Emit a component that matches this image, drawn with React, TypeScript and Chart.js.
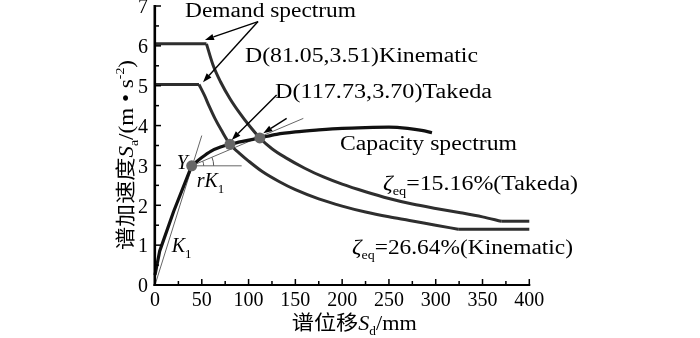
import React, { useEffect, useRef } from "react";
import { Chart, registerables } from "chart.js";
Chart.register(...registerables);

// ---------- data ----------
const xTickValues = [0, 50, 100, 150, 200, 250, 300, 350, 400];
const yTickValues = [0, 1, 2, 3, 4, 5, 6, 7];

// Demand spectrum, zeta_eq = 15.16% (Takeda)  [Sd mm, Sa m/s2]
const demandTakeda: number[][] = [
  [0, 6.05], [55, 6.05], [62, 5.52], [70, 5.1], [80, 4.68], [90, 4.33], [100, 4.02],
  [112, 3.69], [125, 3.42], [140, 3.19], [160, 2.93], [180, 2.71], [200, 2.53],
  [225, 2.34], [250, 2.17], [275, 2.03], [300, 1.92], [325, 1.82], [350, 1.71],
  [370, 1.6], [400, 1.6],
];
// Demand spectrum, zeta_eq = 26.64% (Kinematic)
const demandKinematic: number[][] = [
  [0, 5.03], [47, 5.03], [53, 4.75], [58, 4.48], [64, 4.18], [71, 3.88], [80.1, 3.53],
  [90, 3.31], [100, 3.11], [115, 2.84], [133, 2.59], [150, 2.39], [175, 2.16],
  [200, 1.98], [225, 1.83], [250, 1.71], [272, 1.62], [300, 1.5], [324, 1.4], [400, 1.4],
];
// Capacity spectrum
const capacityBeforeYield: number[][] = [[0, 0.25], [5, 0.85], [20, 1.85], [39.2, 2.99]];
const capacityAfterYield: number[][] = [
  [39.2, 2.99], [50, 3.2], [60, 3.36], [70, 3.46], [80.1, 3.53], [95, 3.61], [112, 3.69],
  [130, 3.78], [150, 3.84], [175, 3.89], [200, 3.93], [225, 3.95], [250, 3.96],
  [270, 3.93], [285, 3.88], [296, 3.82],
];
const keyPoints: number[][] = [[39.2, 2.99], [80.1, 3.53], [112, 3.69]];
const k1Line: number[][] = [[0, 0], [50, 3.75]];
const rk1Line: number[][] = [[39.2, 2.99], [158.5, 4.18]];
const yieldHorizontal: number[][] = [[39.2, 2.99], [92.6, 2.99]];

const arrows: number[][][] = [
  [[110.1, 6.61], [53.4, 6.15]],
  [[110.1, 6.61], [51.3, 5.09]],
  [[130, 4.77], [82, 3.64]],
  [[140.7, 4.18], [115.7, 3.81]],
];

// ---------- styles ----------
const SERIF = '"Liberation Serif", "Times New Roman", serif';
const CJK = '"Noto Sans CJK SC", "Noto Sans CJK JP", sans-serif';
const F = (size: number, italic = false) => `${italic ? "italic " : ""}${size}px ${SERIF}`;

type Seg = { t: string; font: string; dy?: number };
type Ann = { segs: Seg[]; x: number; y: number; w?: number };

const annotations: Ann[] = [
  { segs: [{ t: "Demand spectrum", font: F(20) }], x: 32.1, y: 6.73, w: 171 },
  { segs: [{ t: "D(81.05,3.51)Kinematic", font: F(20) }], x: 96.2, y: 5.6, w: 233 },
  { segs: [{ t: "D(117.73,3.70)Takeda", font: F(20) }], x: 128.2, y: 4.68, w: 217 },
  { segs: [{ t: "Capacity spectrum", font: F(20) }], x: 197.7, y: 3.39, w: 177 },
  {
    segs: [
      { t: "ζ", font: F(20, true) },
      { t: "eq", font: F(12), dy: 5 },
      { t: "=15.16%(Takeda)", font: F(20) },
    ],
    x: 243.6, y: 2.38, w: 195,
  },
  {
    segs: [
      { t: "ζ", font: F(20, true) },
      { t: "eq", font: F(12), dy: 5 },
      { t: "=26.64%(Kinematic)", font: F(20) },
    ],
    x: 210.5, y: 0.78, w: 221,
  },
  { segs: [{ t: "Y", font: F(20, true) }], x: 23.2, y: 2.9 },
  { segs: [{ t: "rK", font: F(20, true) }, { t: "1", font: F(13), dy: 6 }], x: 44.6, y: 2.47 },
  { segs: [{ t: "K", font: F(20, true) }, { t: "1", font: F(13), dy: 6 }], x: 17.8, y: 0.84 },
];

const yTitle: Seg[] = [
  { t: "谱加速度", font: `20px ${CJK}` },
  { t: "S", font: F(20, true) },
  { t: "a", font: F(12), dy: 5 },
  { t: "/(m • s", font: F(20) },
  { t: "-2", font: F(12), dy: -9 },
  { t: ")", font: F(20) },
];
const xTitle: Seg[] = [
  { t: "谱位移", font: `20px ${CJK}` },
  { t: "S", font: F(20, true) },
  { t: "d", font: F(12), dy: 5 },
  { t: "/mm", font: F(20) },
];

function drawRich(ctx: CanvasRenderingContext2D, segs: Seg[], x: number, y: number, target?: number) {
  let nat = 0;
  for (const s of segs) {
    ctx.font = s.font;
    nat += ctx.measureText(s.t).width;
  }
  const sx = target ? target / nat : 1;
  ctx.save();
  ctx.translate(x, y);
  ctx.scale(sx, 1);
  ctx.textAlign = "left";
  ctx.textBaseline = "alphabetic";
  let cx = 0;
  for (const s of segs) {
    ctx.font = s.font;
    ctx.fillText(s.t, cx, s.dy || 0);
    cx += ctx.measureText(s.t).width;
  }
  ctx.restore();
}

const toXY = (a: number[][]) => a.map(([x, y]) => ({ x, y }));

const decoPlugin = {
  id: "deco",
  afterDatasetsDraw(chart: any) {
    const ctx: CanvasRenderingContext2D = chart.ctx;
    const xs = chart.scales.x;
    const ys = chart.scales.y;
    const px = (v: number) => xs.getPixelForValue(v);
    const py = (v: number) => ys.getPixelForValue(v);
    const L = px(0);
    const B = py(0);
    const T = py(yTickValues[yTickValues.length - 1]);
    const R = px(xTickValues[xTickValues.length - 1]);
    ctx.save();
    ctx.globalAlpha = 1;
    ctx.setLineDash([]);
    ctx.fillStyle = "#000";
    // axes
    ctx.fillRect(L - 1.5, T - 1, 2.6, B - T + 2);
    ctx.fillRect(L - 1.5, B - 1, R - L + 2.5, 2);
    // inward ticks (major + minor)
    for (let i = 0; i < xTickValues.length; i++) {
      const v = xTickValues[i];
      ctx.fillRect(px(v) - 0.75, B - 6, 1.5, 6);
      if (i < xTickValues.length - 1) {
        const m = (v + xTickValues[i + 1]) / 2;
        ctx.fillRect(px(m) - 0.75, B - 4, 1.5, 4);
      }
    }
    for (let i = 0; i < yTickValues.length; i++) {
      const v = yTickValues[i];
      ctx.fillRect(L, py(v) - 0.75, 6, 1.5);
      if (i < yTickValues.length - 1) {
        const m = (v + yTickValues[i + 1]) / 2;
        ctx.fillRect(L, py(m) - 0.75, 4, 1.5);
      }
    }
    // angle arcs at yield point
    const yx = px(rk1Line[0][0]);
    const yy = py(rk1Line[0][1]);
    const ang = Math.atan2(-(py(rk1Line[1][1]) - yy), px(rk1Line[1][0]) - yx);
    ctx.strokeStyle = "#555";
    ctx.lineWidth = 1;
    for (const r of [12, 22]) {
      ctx.beginPath();
      ctx.arc(yx, yy, r, -ang, 0);
      ctx.stroke();
    }
    // arrows
    ctx.strokeStyle = "#000";
    ctx.fillStyle = "#000";
    ctx.lineWidth = 1.4;
    for (const [s, e] of arrows) {
      const x0 = px(s[0]), y0 = py(s[1]), x1 = px(e[0]), y1 = py(e[1]);
      const th = Math.atan2(y1 - y0, x1 - x0);
      const hl = 9, hw = 3.2;
      const bx = x1 - hl * Math.cos(th), by = y1 - hl * Math.sin(th);
      ctx.beginPath();
      ctx.moveTo(x0, y0);
      ctx.lineTo(bx, by);
      ctx.stroke();
      ctx.beginPath();
      ctx.moveTo(x1, y1);
      ctx.lineTo(bx + hw * Math.sin(th), by - hw * Math.cos(th));
      ctx.lineTo(bx - hw * Math.sin(th), by + hw * Math.cos(th));
      ctx.closePath();
      ctx.fill();
    }
    // annotations
    ctx.fillStyle = "#000";
    for (const an of annotations) drawRich(ctx, an.segs, px(an.x), py(an.y), an.w);
    // axis titles
    drawRich(ctx, xTitle, 291.7, 330, 125);
    ctx.save();
    ctx.translate(133, 155);
    ctx.rotate(-Math.PI / 2);
    drawRich(ctx, yTitle, -95, 0, 190);
    ctx.restore();
    ctx.restore();
  },
};

export default function App() {
  const ref = useRef<HTMLCanvasElement | null>(null);
  useEffect(() => {
    if (!ref.current) return;
    const thick = (data: number[][], curved: boolean, color = "#2e2e2e", w = 3) => ({
      data: toXY(data),
      borderColor: color,
      borderWidth: w,
      pointRadius: 0,
      fill: false,
      clip: false,
      tension: 0,
      cubicInterpolationMode: curved ? "monotone" : "default",
      borderJoinStyle: "round",
    });
    const segs = (arr: number[][]) => [
      thick(arr.slice(0, 2), false),
      thick(arr.slice(1, arr.length - 1), true),
      thick(arr.slice(arr.length - 2), false),
    ];
    const chart = new Chart(ref.current, {
      type: "line",
      data: {
        datasets: [
          {
            data: toXY(keyPoints),
            showLine: false,
            pointRadius: 5.5,
            pointBackgroundColor: "#666",
            pointBorderWidth: 0,
            clip: false,
          } as any,
          thick(capacityAfterYield, true, "#111", 3.2),
          thick(capacityBeforeYield, false, "#111", 3.2),
          ...segs(demandTakeda),
          ...segs(demandKinematic),
          thick(k1Line, false, "#666", 1),
          thick(rk1Line, false, "#666", 1),
          thick(yieldHorizontal, false, "#666", 1),
        ] as any,
      },
      options: {
        animation: false,
        responsive: false,
        devicePixelRatio: 1,
        layout: { padding: { top: 6, right: 170.7, left: 0, bottom: 0 } },
        plugins: { legend: { display: false }, tooltip: { enabled: false } },
        scales: {
          x: {
            type: "linear",
            min: 0,
            max: 400,
            grid: { display: false, drawTicks: false },
            border: { display: false },
            afterBuildTicks: (s: any) => {
              s.ticks = xTickValues.map((v) => ({ value: v }));
            },
            afterFit: (s: any) => {
              s.height = 53;
              s.paddingLeft = 0;
              s.paddingRight = 0;
            },
            ticks: {
              color: "#000",
              padding: 4,
              maxRotation: 0,
              autoSkip: false,
              font: { family: SERIF, size: 20 },
            },
          },
          y: {
            type: "linear",
            min: 0,
            max: 7,
            grid: { display: false, drawTicks: false },
            border: { display: false },
            afterBuildTicks: (s: any) => {
              s.ticks = yTickValues.map((v) => ({ value: v }));
            },
            afterFit: (s: any) => {
              s.width = 155;
              s.paddingTop = 0;
              s.paddingBottom = 0;
            },
            ticks: {
              color: "#000",
              padding: 7,
              labelOffset: 2,
              autoSkip: false,
              font: { family: SERIF, size: 20 },
            },
          },
        },
      } as any,
      plugins: [decoPlugin],
    });
    return () => chart.destroy();
  }, []);
  return (
    <div style={{ position: "absolute", left: 0, top: 0, width: 700, height: 338, background: "#fff" }}>
      <canvas ref={ref} width={700} height={338} style={{ width: 700, height: 338, display: "block" }} />
    </div>
  );
}
